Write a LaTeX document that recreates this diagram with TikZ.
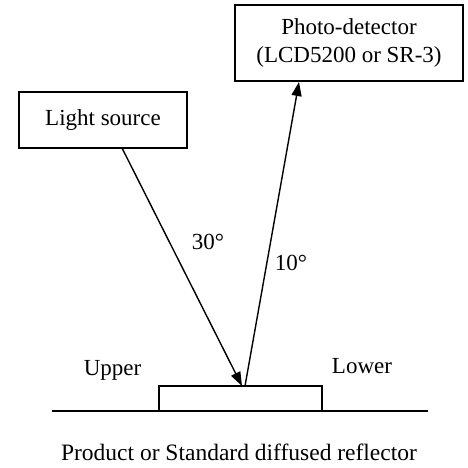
\documentclass[tikz,border=0pt]{standalone}
\usepackage{fontspec}
\setmainfont{Liberation Serif}
\usetikzlibrary{arrows.meta}
\begin{document}
\begin{tikzpicture}[x=1pt,y=1pt,
  box/.style={draw,line width=1.6pt,inner sep=0pt,align=center,font=\fontsize{23}{28}\selectfont},
  lbl/.style={inner sep=0pt,font=\fontsize{23}{28}\selectfont},
  ray/.style={line width=1.4pt,-{Triangle[length=14pt,width=10pt]}}]
\useasboundingbox (0,0) rectangle (467,468);
\node[box,minimum width=168pt,minimum height=56pt] (light) at (103,348) {Light source};
\node[box,minimum width=228pt,minimum height=76pt] (det) at (349,425) {Photo-detector\\(LCD5200 or SR-3)};
\node[draw,line width=1.6pt,minimum width=163pt,minimum height=25pt,inner sep=0pt] (sub) at (240.5,69.5) {};
\coordinate (gl) at (52,57);
\coordinate (gr) at (428,57);
\draw[line width=1.6pt] (gl) -- (gr);
\coordinate (ls) at (122,320);
\coordinate (hit) at (242,82);
\coordinate (refl) at (245,82);
\coordinate (dt) at (299,386);
\draw[ray] (ls) -- (hit);
\draw[ray] (refl) -- (dt);
\node[lbl,anchor=base] (a30) at (208,218) {30°};
\node[lbl,anchor=base] (a10) at (291,197) {10°};
\node[lbl,anchor=base] (up) at (112.5,92) {Upper};
\node[lbl,anchor=base] (lo) at (362,94) {Lower};
\node[lbl,anchor=base,font=\fontsize{23.5}{28}\selectfont] (cap) at (239,7) {Product or Standard diffused reflector};
\end{tikzpicture}
\end{document}
